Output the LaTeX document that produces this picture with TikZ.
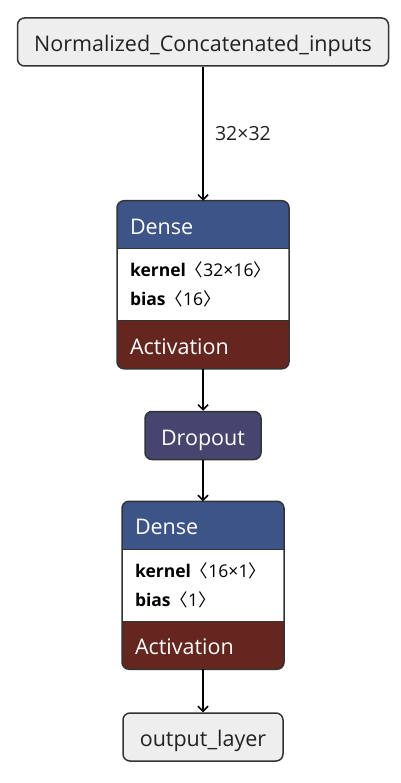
\documentclass[tikz,border=0pt]{standalone}
\usepackage{fontspec}
\setmainfont{Open Sans}
\newfontfamily\cjk{Noto Sans CJK SC}
\usepackage{tikz}
\usetikzlibrary{arrows.meta}
\usetikzlibrary{positioning, backgrounds}
\definecolor{edgegray}{HTML}{333333}
\definecolor{boxgray}{HTML}{EEEEEE}
\definecolor{textdark}{HTML}{222222}
\definecolor{headblue}{HTML}{3D5488}
\definecolor{actred}{HTML}{652620}
\definecolor{droppurple}{HTML}{46456F}
\tikzset{
    iobox/.style = {draw=edgegray, line width=1.5pt, rounded corners=7pt,
        fill=boxgray, text=textdark, minimum height=48pt, inner ysep=0pt,
        text height=21pt, text depth=2pt, font=\fontsize{21.5}{24}\selectfont},
    dropbox/.style = {iobox, fill=droppurple, text=white},
    layerpart/.style = {outer sep=0pt, inner xsep=13pt, inner ysep=0pt,
        align=left, text=white, font=\fontsize{21.5}{24}\selectfont},
    headbox/.style = {layerpart, text width=#1, minimum height=48pt,
        text height=21pt, text depth=2pt},
    bodybox/.style = {layerpart, text width=#1, minimum height=72pt,
        text=black, font=\fontsize{17.5}{29}\selectfont},
    actbox/.style = {layerpart, text width=#1, minimum height=48pt,
        text height=21pt, text depth=2pt},
    flow/.style = {->, line width=1.5pt, black},
    dimlabel/.style = {right=8pt, font=\fontsize{19.5}{22}\selectfont, text=textdark},
}

\begin{document}
\begin{tikzpicture}[x=1pt, y=1pt, >={Straight Barb[length=5pt,width=10pt]}]
        \useasboundingbox (0,0) rectangle (400,-783);
        \node [iobox, minimum width=371pt] (inputs) at (203,-42) {Normalized\_Concatenated\_inputs};
        \node [headbox=146pt, below=134pt of inputs] (dense1) {Dense};
        \node [bodybox=146pt, below=0pt of dense1] (dense1w)
            {\textbf{kernel}{\cjk 〈}32×16{\cjk 〉}\\\textbf{bias}{\cjk 〈}16{\cjk 〉}};
        \node [actbox=146pt, below=0pt of dense1w] (dense1a) {Activation};
        \node [dropbox, minimum width=116pt, below=42pt of dense1a] (dropout) {Dropout};
        \node [headbox=136pt, below=41pt of dropout] (dense2) {Dense};
        \node [bodybox=136pt, below=0pt of dense2] (dense2w)
            {\textbf{kernel}{\cjk 〈}16×1{\cjk 〉}\\\textbf{bias}{\cjk 〈}1{\cjk 〉}};
        \node [actbox=136pt, below=0pt of dense2w] (dense2a) {Activation};
        \node [iobox, minimum width=160pt, below=43pt of dense2a] (outputs) {output\_layer};
        \begin{scope}[on background layer]
            \begin{scope}
                \clip [rounded corners=7pt] (dense1.north west) rectangle (dense1a.south east);
                \fill [white] (dense1.north west) rectangle (dense1a.south east);
                \fill [headblue] (dense1.north west) rectangle (dense1.south east);
                \fill [actred] (dense1a.north west) rectangle (dense1a.south east);
            \end{scope}
            \begin{scope}
                \clip [rounded corners=7pt] (dense2.north west) rectangle (dense2a.south east);
                \fill [white] (dense2.north west) rectangle (dense2a.south east);
                \fill [headblue] (dense2.north west) rectangle (dense2.south east);
                \fill [actred] (dense2a.north west) rectangle (dense2a.south east);
            \end{scope}
        \end{scope}
        \draw [edgegray, line width=1.2pt] (dense1w.north west) -- (dense1w.north east);
        \draw [edgegray, line width=1.2pt] (dense1w.south west) -- (dense1w.south east);
        \draw [edgegray, line width=1.2pt] (dense2w.north west) -- (dense2w.north east);
        \draw [edgegray, line width=1.2pt] (dense2w.south west) -- (dense2w.south east);
        \draw [edgegray, line width=1.5pt, rounded corners=7pt] (dense1.north west) rectangle (dense1a.south east);
        \draw [edgegray, line width=1.5pt, rounded corners=7pt] (dense2.north west) rectangle (dense2a.south east);
        \draw [flow] (inputs) -- node [dimlabel] {32×32} (dense1);
        \draw [flow] (dense1a) -- (dropout);
        \draw [flow] (dropout) -- (dense2);
        \draw [flow] (dense2a) -- (outputs);
\end{tikzpicture}
\end{document}
